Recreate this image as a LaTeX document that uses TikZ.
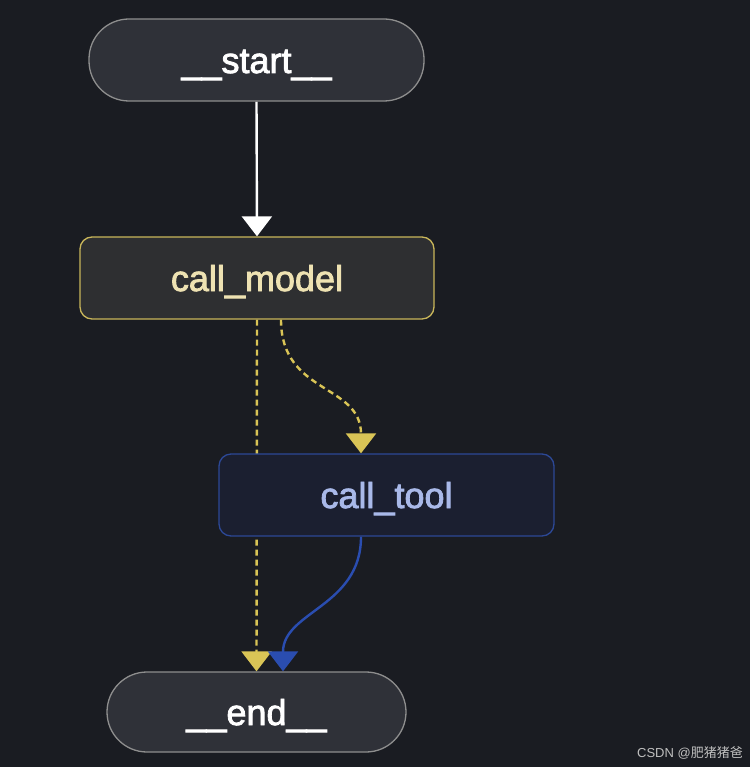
\documentclass[tikz,border=0pt]{standalone}
\usepackage{fontspec}
\setmainfont{Liberation Sans}
\newfontfamily\labelfont{Liberation Sans}[FakeBold=2.2]
\newfontfamily\cjkfont{Noto Sans CJK SC}
\usetikzlibrary{arrows.meta,backgrounds}

\definecolor{bgdark}{HTML}{1A1C22}
\definecolor{pillfill}{HTML}{2F3138}
\definecolor{pillline}{HTML}{8E8E8E}
\definecolor{modelfill}{HTML}{2E2F31}
\definecolor{modelline}{HTML}{C9B65A}
\definecolor{modeltext}{HTML}{EEE2B2}
\definecolor{toolfill}{HTML}{1B1F30}
\definecolor{toolline}{HTML}{2C4896}
\definecolor{tooltext}{HTML}{A9B9E9}
\definecolor{edgeyellow}{HTML}{D9C456}
\definecolor{edgeblue}{HTML}{2A4DB0}

\tikzset{every picture/.style={line width=0.75pt}}
\tikzset{
  label text/.style={inner sep=0pt, text height=26, text depth=0, font=\labelfont\fontsize{36}{40}\selectfont},
  pill/.style={label text, draw=pillline, fill=pillfill, line width=1.3, rounded corners=40,
    text=white, minimum height=82},
  modelbox/.style={label text, draw=modelline, fill=modelfill, line width=1.3, rounded corners=12,
    text=modeltext, minimum width=354, minimum height=82},
  toolbox/.style={label text, draw=toolline, fill=toolfill, line width=1.3, rounded corners=12,
    text=tooltext, minimum width=335, minimum height=82},
  tip/.style={-{Triangle[width=30,length=20]}},
  condedge/.style={tip, draw=edgeyellow, line width=2.4, dash pattern=on 6 off 4},
}

\begin{document}
\begin{tikzpicture}[x=1pt,y=1pt,yscale=-1,xscale=1]
%set diagram area 750 x 767
\useasboundingbox (0,0) rectangle (750,767);

% Nodes
\node [pill, minimum width=335] (start) at (256.5,60) {\_\_start\_\_};
\node [modelbox] (call_model) at (257,278) {call\_model};
\node [toolbox] (call_tool) at (386.5,495) {call\_tool};
\node [pill, minimum width=299, minimum height=80] (end) at (256.5,712) {\_\_end\_\_};

\begin{pgfonlayer}{background}
\fill [bgdark] (0,0) rectangle (750,767);
%Straight Lines: start -> call_model
\draw [tip, draw=white, line width=2.4] (start.south) -- (call_model.north);
%Dashed Lines: call_model -> end (behind call_tool)
\draw [condedge] (call_model.south) -- (end.north);
%Curve: call_model -> call_tool
\draw [condedge] ([xshift=24]call_model.south) .. controls +(0,75) and +(0,-70) .. ([xshift=-25.5]call_tool.north);
%Curve: call_tool -> end
\draw [tip, draw=edgeblue, line width=2.4] ([xshift=-25.5]call_tool.south) .. controls +(0,70) and +(0,-60) .. ([xshift=26.5]end.north);
\end{pgfonlayer}

% Text Node
\node [anchor=south east, inner sep=0pt, text=black!25, font=\fontsize{13}{15}\selectfont] (mark) at (743,759) {CSDN @{\cjkfont 肥猪猪爸}};

\end{tikzpicture}
\end{document}
